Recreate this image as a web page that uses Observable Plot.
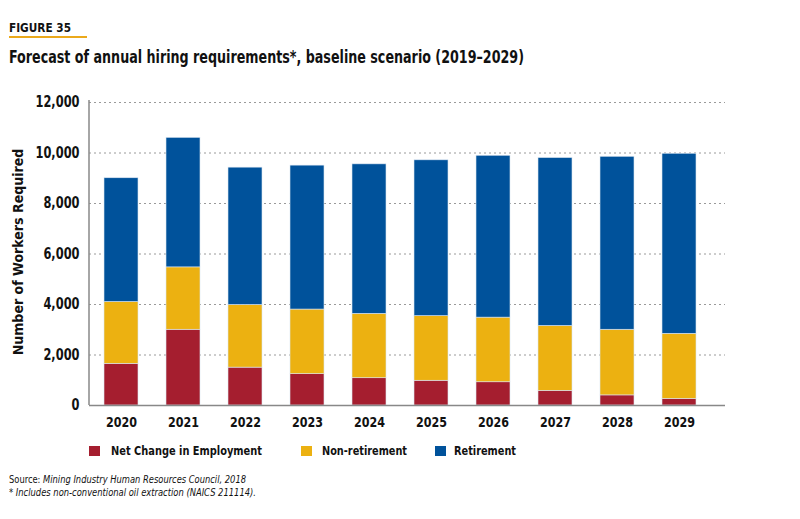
<!DOCTYPE html>
<html>
<head>
<meta charset="utf-8">
<script src="https://cdn.jsdelivr.net/npm/d3@7"></script>
<script src="https://cdn.jsdelivr.net/npm/@observablehq/plot@0.6"></script>
<style>
  html, body { margin: 0; padding: 0; background: #fff; }
  body { width: 800px; height: 519px; position: relative; overflow: hidden;
         font-family: "DejaVu Sans Condensed", "DejaVu Sans", sans-serif; color: #111; }
  .abs { position: absolute; white-space: nowrap; }
  .sq { display: inline-block; transform-origin: 0 50%; }
  #fig { left: 9px; top: 21px; font-size: 11.5px; font-weight: bold; }
  #figline { left: 9px; top: 36px; width: 78px; height: 2px; background: #EBA91B; }
  #title { left: 9px; top: 46px; font-size: 18.5px; font-weight: bold; }
  #chart { left: 0; top: 0; }
  .lsw { width: 11px; height: 10px; top: 446px; }
  .ltx { top: 443px; font-size: 13px; font-weight: bold; }
  .note { left: 9px; font-size: 10px; }
</style>
</head>
<body>
<div id="chart" class="abs"></div>
<div id="fig" class="abs"><span class="sq" data-w="62">FIGURE 35</span></div>
<div id="figline" class="abs"></div>
<div id="title" class="abs"><span class="sq" data-w="515">Forecast of annual hiring requirements*, baseline scenario (2019–2029)</span></div>
<div id="legend"></div>
<div class="abs note" style="top:474px"><span class="sq" data-w="237">Source: <i>Mining Industry Human Resources Council, 2018</i></span></div>
<div class="abs note" style="top:487px"><span class="sq" data-w="247"><i>* Includes non-conventional oil extraction (NAICS 211114).</i></span></div>
<script>
const years = ["2020","2021","2022","2023","2024","2025","2026","2027","2028","2029"];
const netChange = [1650, 3000, 1500, 1240, 1080, 980, 920, 580, 400, 260];
const nonRetirement = [2450, 2470, 2480, 2560, 2550, 2560, 2560, 2570, 2600, 2580];
const retirement = [4900, 5130, 5440, 5700, 5920, 6170, 6410, 6650, 6850, 7130];
const seriesNames = ["Net Change in Employment", "Non-retirement", "Retirement"];
const seriesColors = ["#A51E2F", "#ECB111", "#00529B"];
const yTicks = [0, 2000, 4000, 6000, 8000, 10000, 12000];

const rows = [];
years.forEach((yr, i) => {
  rows.push({year: yr, series: seriesNames[0], value: netChange[i]});
  rows.push({year: yr, series: seriesNames[1], value: nonRetirement[i]});
  rows.push({year: yr, series: seriesNames[2], value: retirement[i]});
});

const font = '"DejaVu Sans Condensed", "DejaVu Sans", sans-serif';
const chart = Plot.plot({
  width: 800,
  height: 440,
  marginLeft: 89,
  marginRight: 75,
  marginTop: 102,
  marginBottom: 35,
  style: {fontFamily: font, fontSize: "15px", fontWeight: "bold", color: "#111", background: "transparent"},
  x: {domain: years, range: [90, 711], paddingInner: 0.45, paddingOuter: 0.225, label: null},
  y: {domain: [0, 12000], label: null},
  color: {domain: seriesNames, range: seriesColors},
  marks: [
    Plot.ruleY(yTicks.filter(d => d > 0), {stroke: "#9a9a9a", strokeDasharray: "2,3", strokeWidth: 1}),
    Plot.barY(rows, {x: "year", y: "value", fill: "series", order: seriesNames, stroke: "#dbe6f2", strokeWidth: 0.6}),
    Plot.axisY({ticks: yTicks, tickFormat: d3.format(","), tickSize: 0, tickPadding: 10, fontSize: 15, label: null}),
    Plot.axisX({tickSize: 0, tickPadding: 12, fontSize: 14, label: null}),
    Plot.ruleY([0], {stroke: "#888", strokeWidth: 1.5}),
    Plot.text(["Number of Workers Required"], {frameAnchor: "left", textAnchor: "middle", dx: -71, dy: -2, rotate: -90, fontSize: 14, fontWeight: "bold", fill: "#111", ariaLabel: "ytitle"})
  ]
});
document.getElementById("chart").appendChild(chart);

const svg = d3.select(chart);
svg.append("line").attr("x1", 89).attr("x2", 89).attr("y1", 100).attr("y2", 405).attr("stroke", "#888").attr("stroke-width", 1.5);

// condense SVG text to mimic the narrow bold typeface
function squeeze(sel, refText, target) {
  let factor = 1;
  sel.each(function() { if (this.textContent === refText) factor = target / this.getComputedTextLength(); });
  sel.each(function() {
    const w = this.getComputedTextLength();
    this.setAttribute("textLength", (w * factor).toFixed(2));
    this.setAttribute("lengthAdjust", "spacingAndGlyphs");
  });
}
squeeze(svg.selectAll('g[aria-label="y-axis tick label"] text'), "12,000", 44);
squeeze(svg.selectAll('g[aria-label="x-axis tick label"] text'), "2020", 31);
squeeze(svg.selectAll('g[aria-label="ytitle"] text'), "Number of Workers Required", 177);

// legend
const legend = document.getElementById("legend");
const swX = [89, 301, 435], txX = [111, 322, 454], txW = [151, 85, 62];
seriesNames.forEach((name, i) => {
  const sw = document.createElement("div");
  sw.className = "abs lsw";
  sw.style.left = swX[i] + "px";
  sw.style.background = seriesColors[i];
  legend.appendChild(sw);
  const t = document.createElement("div");
  t.className = "abs ltx";
  t.style.left = txX[i] + "px";
  t.innerHTML = '<span class="sq" data-w="' + txW[i] + '"></span>';
  t.firstChild.textContent = name;
  legend.appendChild(t);
});

document.querySelectorAll(".sq").forEach(el => {
  const w = el.getBoundingClientRect().width;
  const target = +el.dataset.w;
  el.style.transform = "scaleX(" + (target / w) + ")";
});
</script>
</body>
</html>
